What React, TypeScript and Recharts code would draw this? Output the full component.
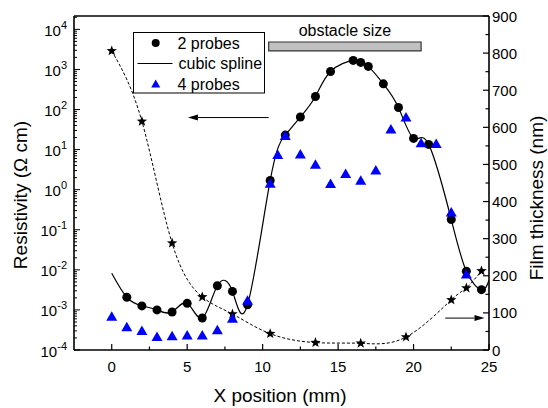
import React from 'react';
import { ComposedChart, Line, XAxis, YAxis, ReferenceArea, ReferenceLine, Legend } from 'recharts';

// ---- data ----
const twoProbeX = [1, 2, 3, 4, 5, 6, 7, 8, 9, 10.5, 11.5, 12.5, 13.5, 14.5, 16, 16.5, 17, 18, 19, 20, 21, 22.5, 23.5, 24.5];
const twoProbeR = [2.07e-3, 1.26e-3, 1.0e-3, 8.9e-4, 1.46e-3, 6.3e-4, 4.0e-3, 2.9e-3, 1.35e-3, 1.7, 23, 65, 211, 891, 1680, 1496, 1190, 437, 112, 19, 13.5, 0.18, 9.2e-3, 3.2e-3];

// spline ends (drawn beyond the first/last measured point)
const splineStart = { x: 0, r: 8.2e-3 };
const splineEnd = { x: 25, r: 5.5e-3 };

const fourProbeX = [0, 1, 2, 3, 4, 5, 6, 7, 8, 9, 10.5, 11, 11.5, 12.5, 13.5, 14.5, 15.5, 16.5, 17.5, 18.5, 19.5, 20.5, 21.5, 22.5, 23.5];
const fourProbeR = [6.8e-4, 3.7e-4, 3.0e-4, 2.1e-4, 2.2e-4, 2.3e-4, 2.3e-4, 3.1e-4, 6.0e-4, 1.7e-3, 1.4, 7.3, 22, 7.5, 4.2, 1.38, 2.45, 1.68, 3.0, 31.6, 63, 14.4, 13.8, 0.27, 7.6e-3];

const thickX = [0, 2, 4, 6, 8, 10.5, 13.5, 16.5, 19.5, 22.5, 23.5, 24.5];
const thickNm = [806, 616, 288, 143, 97, 44, 20, 18, 35, 135, 167, 213];

// obstacle bar
const obstacleX = [10.4, 20.5];
const obstacleNm = [806, 830];

// arrows
const leftArrow = { xFrom: 10.4, xTo: 5.05, r: 63 };
const rightArrow = { xFrom: 22.1, xTo: 24.7, nm: 86 };

// ticks
const xTicks = [0, 2.5, 5, 7.5, 10, 12.5, 15, 17.5, 20, 22.5, 25];
const xMajor = [0, 5, 10, 15, 20, 25];
const decadeExps = [-4, -3, -2, -1, 0, 1, 2, 3, 4];
const mantissas = [1, 2, 3, 4, 5, 6, 7, 8, 9];
const logTicks: number[] = [];
decadeExps.forEach((e) => mantissas.forEach((m) => {
  const v = m * Math.pow(10, e);
  if (v <= 21544) logTicks.push(v);
}));
const rightTicks = [0, 50, 100, 150, 200, 250, 300, 350, 400, 450, 500, 550, 600, 650, 700, 750, 800, 850, 900];

const FONT = '"Liberation Sans", Arial, sans-serif';

const twoProbe = twoProbeX.map((x, i) => ({ x, r: twoProbeR[i] }));
const spline = [splineStart, ...twoProbe, splineEnd];
const fourProbe = fourProbeX.map((x, i) => ({ x, r: fourProbeR[i] }));
const thick = thickX.map((x, i) => ({ x, t: thickNm[i] }));

const isMajorLog = (v: number) => {
  const l = Math.log10(v);
  return Math.abs(l - Math.round(l)) < 1e-6;
};

const BottomTick = (p: any) => {
  const { x, y, payload } = p;
  const major = xMajor.includes(payload.value);
  return (
    <g>
      <line x1={x} x2={x} y1={y} y2={y - (major ? 6 : 3.5)} stroke="#000" strokeWidth={1.2} />
      {major && (
        <text x={x} y={y + 22} textAnchor="middle" fontSize={15} fontFamily={FONT} fill="#000">{payload.value}</text>
      )}
    </g>
  );
};

const TopTick = (p: any) => {
  const { x, y, payload } = p;
  const major = xMajor.includes(payload.value);
  return <line x1={x} x2={x} y1={y} y2={y + (major ? 6 : 3.5)} stroke="#000" strokeWidth={1.2} />;
};

const LeftTick = (p: any) => {
  const { x, y, payload } = p;
  const v = payload.value;
  const major = isMajorLog(v);
  const exp = Math.round(Math.log10(v));
  return (
    <g>
      <line x1={x} x2={x + (major ? 6 : 3)} y1={y} y2={y} stroke="#000" strokeWidth={1} />
      {major && (
        <text x={x - 7} y={y + 6.5} textAnchor="end" fontSize={15} fontFamily={FONT} fill="#000">
          10<tspan dy={-7} fontSize={11}>{exp}</tspan>
        </text>
      )}
    </g>
  );
};

const RightTick = (p: any) => {
  const { x, y, payload } = p;
  const major = payload.value % 100 === 0;
  return (
    <g>
      <line x1={x} x2={x - (major ? 6 : 3.5)} y1={y} y2={y} stroke="#000" strokeWidth={1.2} />
      {major && (
        <text x={x + 3} y={y + 5.5} textAnchor="start" fontSize={15} fontFamily={FONT} fill="#000">{payload.value}</text>
      )}
    </g>
  );
};

const XTitle = () => (
  <text x={280} y={402} textAnchor="middle" fontSize={19} fontFamily={FONT} fill="#000">X position (mm)</text>
);
const LeftTitle = () => (
  <text x={27} y={195} transform="rotate(-90 27 195)" textAnchor="middle" fontSize={19} fontFamily={FONT} fill="#000">Resistivity (Ω cm)</text>
);
const RightTitle = () => (
  <text x={543} y={198} transform="rotate(-90 543 198)" textAnchor="middle" fontSize={19} fontFamily={FONT} fill="#000">Film thickness (nm)</text>
);

const CircleDot = (p: any) => {
  const { cx, cy, index } = p;
  if (cx == null || cy == null) return <g key={`c${index}`} />;
  return <circle key={`c${index}`} cx={cx} cy={cy} r={4.5} fill="#000" />;
};
const TriDot = (p: any) => {
  const { cx, cy, index } = p;
  if (cx == null || cy == null) return <g key={`t${index}`} />;
  return <polygon key={`t${index}`} points={`${cx},${cy - 5.5} ${cx - 5.5},${cy + 4} ${cx + 5.5},${cy + 4}`} fill="#0000ff" />;
};
const starPts = (cx: number, cy: number, ro: number, ri: number) => {
  const pts: string[] = [];
  for (let i = 0; i < 10; i++) {
    const r = i % 2 === 0 ? ro : ri;
    const a = -Math.PI / 2 + (i * Math.PI) / 5;
    pts.push(`${cx + r * Math.cos(a)},${cy + r * Math.sin(a)}`);
  }
  return pts.join(' ');
};
const StarDot = (p: any) => {
  const { cx, cy, index } = p;
  if (cx == null || cy == null) return <g key={`s${index}`} />;
  return <polygon key={`s${index}`} points={starPts(cx, cy, 5.5, 2.3)} fill="#000" />;
};

const Arrow = (props: any) => {
  const { x1, y1, x2, y2 } = props;
  const dx = x2 - x1, dy = y2 - y1;
  const len = Math.hypot(dx, dy) || 1;
  const ux = dx / len, uy = dy / len;
  const hl = 10, hw = 3;
  const bx = x2 - ux * hl, by = y2 - uy * hl;
  return (
    <g>
      <line x1={x1} y1={y1} x2={bx} y2={by} stroke="#000" strokeWidth={1} />
      <polygon points={`${x2},${y2} ${bx - uy * hw},${by + ux * hw} ${bx + uy * hw},${by - ux * hw}`} fill="#000" />
    </g>
  );
};

const LegendBox = () => (
  <svg width={133} height={62} style={{ display: 'block', overflow: 'visible' }}>
    <rect x={0.5} y={0.5} width={131} height={60.5} fill="#fff" stroke="#000" strokeWidth={1} />
    <circle cx={22.7} cy={11} r={4} fill="#000" />
    <text x={44.5} y={16.5} fontSize={16} fontFamily={FONT} fill="#000">2 probes</text>
    <line x1={4.5} x2={39.5} y1={31.5} y2={31.5} stroke="#000" strokeWidth={1} />
    <text x={45.5} y={37} fontSize={16} fontFamily={FONT} fill="#000">cubic spline</text>
    <polygon points="22.7,47.5 18.2,55.5 27.2,55.5" fill="#0000ff" />
    <text x={44.5} y={57.5} fontSize={16} fontFamily={FONT} fill="#000">4 probes</text>
  </svg>
);

export default function App() {
  const axisLine = { stroke: '#000', strokeWidth: 1.6 };
  return (
    <div style={{ position: 'absolute', left: 0, top: 0, width: 548, height: 408, background: '#fff' }}>
      <ComposedChart width={548} height={408} margin={{ top: 0, right: 0, bottom: 0, left: 0 }}>
        <XAxis xAxisId="b" type="number" dataKey="x" orientation="bottom" domain={[-2.5, 25]} allowDataOverflow
          ticks={xTicks} interval={0} height={58} tickLine={false} tickSize={0} tickMargin={0}
          axisLine={axisLine} tick={<BottomTick />} label={<XTitle />} />
        <XAxis xAxisId="t" type="number" orientation="top" domain={[-2.5, 25]} allowDataOverflow
          ticks={xTicks} interval={0} height={16} tickLine={false} tickSize={0} tickMargin={0}
          axisLine={axisLine} tick={<TopTick />} />
        <YAxis yAxisId="l" type="number" scale="log" domain={[1e-4, 21544]} allowDataOverflow
          ticks={logTicks} interval={0} width={74} tickLine={false} tickSize={0} tickMargin={0}
          axisLine={axisLine} tick={<LeftTick />} label={<LeftTitle />} />
        <YAxis yAxisId="r" type="number" orientation="right" domain={[0, 900]} allowDataOverflow
          ticks={rightTicks} interval={0} width={59} tickLine={false} tickSize={0} tickMargin={0}
          axisLine={axisLine} tick={<RightTick />} label={<RightTitle />} />

        <ReferenceArea xAxisId="b" yAxisId="r" x1={obstacleX[0]} x2={obstacleX[1]} y1={obstacleNm[0]} y2={obstacleNm[1]}
          fill="#c0c0c0" fillOpacity={1} stroke="#333" strokeWidth={1.2} ifOverflow="visible"
          label={{ value: 'obstacle size', position: 'top', offset: 6, fill: '#000', fontSize: 16, fontFamily: FONT }} />

        <ReferenceLine xAxisId="b" yAxisId="l" ifOverflow="visible"
          segment={[{ x: leftArrow.xFrom, y: leftArrow.r }, { x: leftArrow.xTo, y: leftArrow.r }]} shape={Arrow} />
        <ReferenceLine xAxisId="b" yAxisId="r" ifOverflow="visible"
          segment={[{ x: rightArrow.xFrom, y: rightArrow.nm }, { x: rightArrow.xTo, y: rightArrow.nm }]} shape={Arrow} />

        <Line xAxisId="b" yAxisId="r" data={thick} dataKey="t" type="natural" stroke="#000" strokeWidth={1}
          strokeDasharray="3 2" dot={false} isAnimationActive={false} legendType="none" />
        <Line xAxisId="b" yAxisId="r" data={thick} dataKey="t" stroke="none" dot={StarDot} activeDot={false}
          isAnimationActive={false} legendType="none" />
        <Line xAxisId="b" yAxisId="l" data={spline} dataKey="r" type="natural" stroke="#000" strokeWidth={1.2}
          dot={false} isAnimationActive={false} legendType="none" />
        <Line xAxisId="b" yAxisId="l" data={twoProbe} dataKey="r" stroke="none" dot={CircleDot} activeDot={false}
          isAnimationActive={false} legendType="none" />
        <Line xAxisId="b" yAxisId="l" data={fourProbe} dataKey="r" stroke="none" dot={TriDot} activeDot={false}
          isAnimationActive={false} legendType="none" />

        <Legend layout="vertical" align="center" verticalAlign="middle"
          wrapperStyle={{ left: 133, top: 32, width: 133, height: 62 }} content={<LegendBox />} />
      </ComposedChart>
    </div>
  );
}
